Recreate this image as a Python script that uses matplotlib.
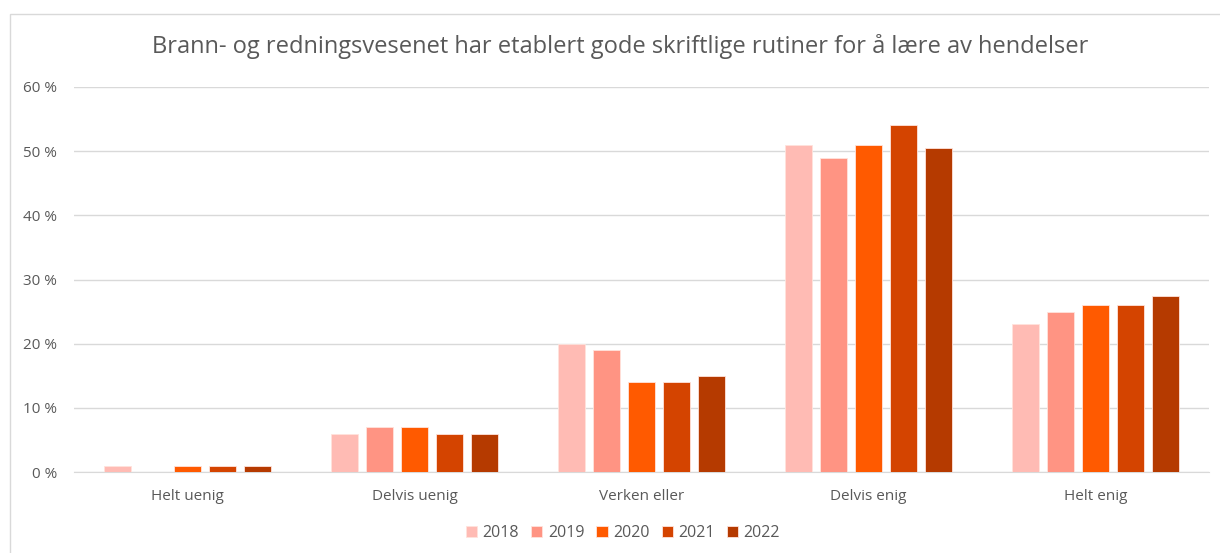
import matplotlib
matplotlib.use("Agg")
import matplotlib.pyplot as plt
import numpy as np
from matplotlib.patches import Rectangle

categories = ["Helt uenig", "Delvis uenig", "Verken eller", "Delvis enig", "Helt enig"]
years = ["2018", "2019", "2020", "2021", "2022"]
values = {
    "2018": [1, 6, 20, 51, 23],
    "2019": [0, 7, 19, 49, 25],
    "2020": [1, 7, 14, 51, 26],
    "2021": [1, 6, 14, 54, 26],
    "2022": [1, 6, 15, 50.5, 27.5],
}
colors = ["#FFBBB4", "#FF9483", "#FF5A00", "#D44400", "#B53A00"]
title = "Brann- og redningsvesenet har etablert gode skriftlige rutiner for å lære av hendelser"
yticks = [0, 10, 20, 30, 40, 50, 60]

plt.rcParams['font.family'] = ['Open Sans', 'DejaVu Sans']

W, H = 1220, 553
fig = plt.figure(figsize=(W / 100, H / 100), dpi=100)
fig.patches.append(Rectangle((10 / W, -0.2), 1.2, 1.2 - 14 / H, transform=fig.transFigure,
                             fill=False, edgecolor="#D9D9D9", linewidth=1))

ax = fig.add_axes([74 / W, 1 - 472 / H, (1209 - 74) / W, (472 - 87) / H])
x = np.arange(len(categories))
step = 0.154
width = 0.12
for i, (yr, c) in enumerate(zip(years, colors)):
    ax.bar(x + (i - 2) * step, values[yr], width=width, color=c, label=yr,
           edgecolor="#FFE3DC", linewidth=0.6, zorder=3)

ax.set_xlim(-0.5, len(categories) - 0.5)
ax.set_ylim(0, 60)
ax.set_yticks(yticks)
ax.set_yticklabels([f"{v} %" for v in yticks])
ax.set_xticks(x)
ax.set_xticklabels(categories)
ax.grid(axis="y", color="#D9D9D9", linewidth=1, zorder=0)
for s in ["top", "right", "left"]:
    ax.spines[s].set_visible(False)
ax.spines["bottom"].set_color("#D9D9D9")
ax.tick_params(axis="both", length=0, colors="#595959", labelsize=11)
ax.tick_params(axis="x", pad=12)
ax.tick_params(axis="y", pad=12)

fig.text(620 / W, 1 - 47 / H, title, ha="center", va="center", fontsize=17, color="#595959")

leg = fig.legend(loc="center", bbox_to_anchor=(623 / W, 1 - 533 / H), ncol=5, frameon=False,
                 fontsize=11.5, handlelength=0.7, handleheight=0.7, columnspacing=0.75,
                 handletextpad=0.35, labelcolor="#595959")

fig.savefig("out.png", dpi=100, facecolor="white")
